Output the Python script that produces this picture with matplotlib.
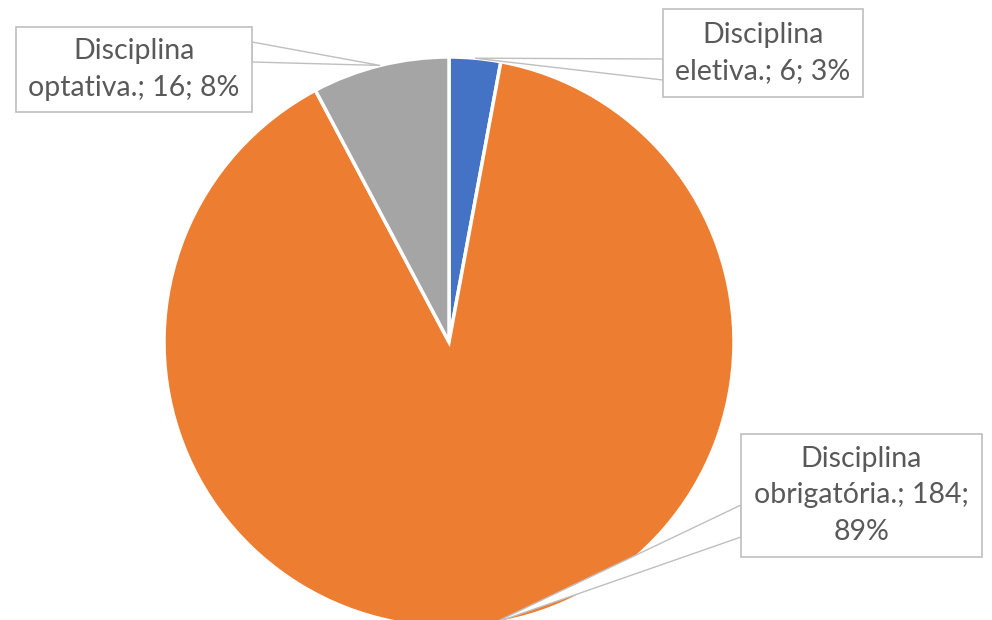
import numpy as np
import matplotlib.pyplot as plt
from matplotlib.patches import Rectangle, Polygon

# --- Data ---
categories = ["Disciplina eletiva.", "Disciplina obrigatória.", "Disciplina optativa."]
values = [6, 184, 16]
colors = ["#4472C4", "#ED7D31", "#A5A5A5"]

W, H = 992, 620
TXT = "#595959"
EDGE = "#BFBFBF"

# pie geometry in pixels (y measured from top)
CX, CY, R = 449, 342, 285

# label boxes (x0, y0, x1, y1) and callout base on box edge (x, ya, yb)
boxes = [(663, 9, 863, 97), (741, 434, 982, 557), (16, 27, 252, 112)]
bases = [(663, 59, 80), (741, 505, 537), (252, 42, 62)]


def fy(y):
    return H - y


fig = plt.figure(figsize=(W / 100, H / 100), dpi=100)
ax = fig.add_axes([0, 0, 1, 1])

wedges, _ = ax.pie(values, colors=colors, startangle=90, counterclock=False,
                   center=(CX, fy(CY)), radius=R,
                   wedgeprops=dict(edgecolor="white", linewidth=2.5))
ax.set_xlim(0, W)
ax.set_ylim(0, H)
ax.set_aspect("auto")
ax.axis("off")

total = sum(values)
for i, (cat, v) in enumerate(zip(categories, values)):
    pct = round(v / total * 100)
    first, rest = cat.split(" ", 1)
    second = f"{rest}; {v};"
    if len(second + f" {pct}%") > 18:
        label = f"{first}\n{second}\n{pct}%"
    else:
        label = f"{first}\n{second} {pct}%"

    # anchor point at middle of slice, on the rim
    w = wedges[i]
    mid = np.deg2rad((w.theta1 + w.theta2) / 2)
    px = CX + R * np.cos(mid)
    py = fy(CY) + R * np.sin(mid)

    bx, ya, yb = bases[i]
    ax.add_patch(Polygon([(bx, fy(ya)), (px, py), (bx, fy(yb))], closed=True,
                         facecolor="white", edgecolor=EDGE, linewidth=1.0,
                         zorder=3, clip_on=False))
    x0, y0, x1, y1 = boxes[i]
    ax.add_patch(Rectangle((x0, fy(y1)), x1 - x0, y1 - y0, facecolor="white",
                           edgecolor=EDGE, linewidth=1.2, zorder=4))
    ax.text((x0 + x1) / 2, fy((y0 + y1) / 2), label, ha="center", va="center",
            fontsize=20.5, family="Lato", color=TXT, linespacing=1.52, zorder=5)

fig.savefig("out.png", dpi=100, facecolor="white")
